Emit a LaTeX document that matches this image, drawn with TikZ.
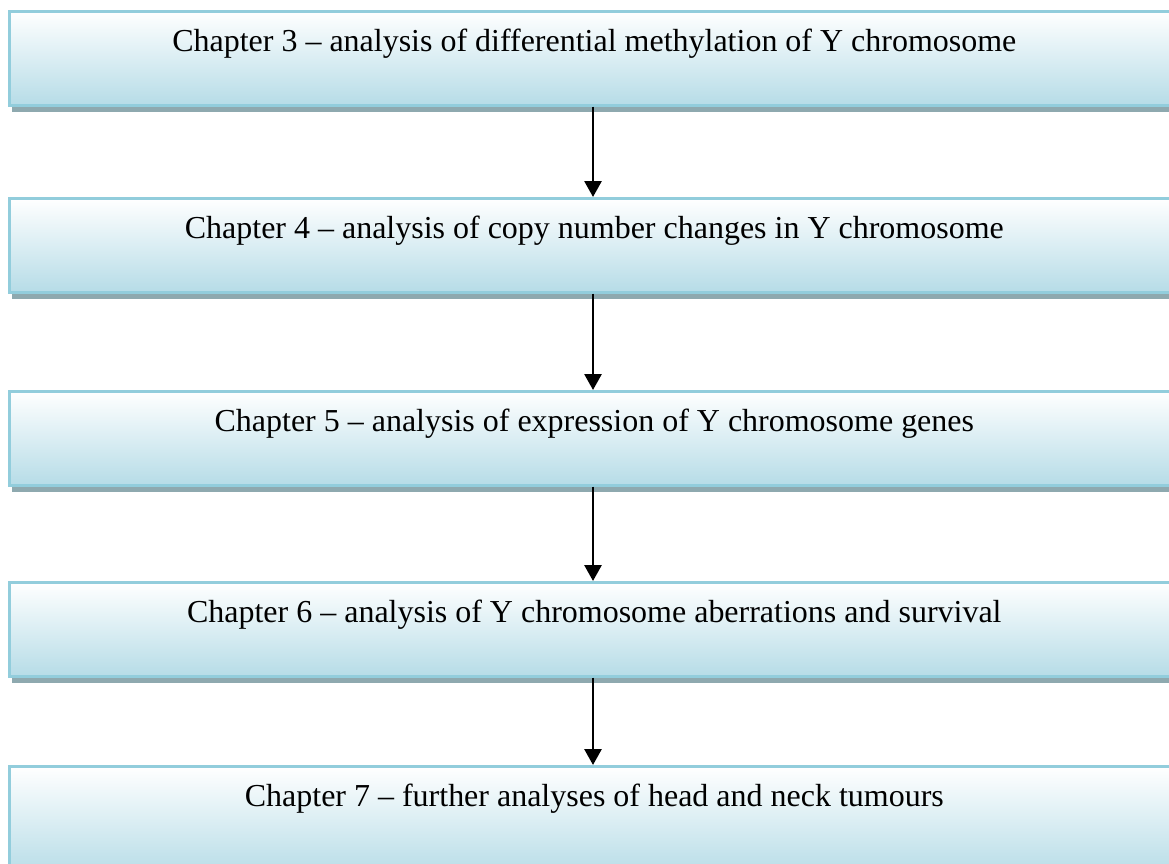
\documentclass[tikz,border=0pt]{standalone}
\usepackage{fontspec}
\setmainfont{Liberation Serif}
\usetikzlibrary{arrows.meta,shadows}
\definecolor{boxline}{HTML}{92CDDC}
\definecolor{boxbottom}{HTML}{B6DCE7}
\definecolor{boxshadow}{HTML}{8EA9AF}

\begin{document}
\begin{tikzpicture}[
  chapbox/.style={draw=boxline, line width=1.5pt, top color=white, bottom color=boxbottom,
    anchor=north west, minimum width=23.4cm, minimum height=1.88cm, inner sep=0pt,
    text height=0.6cm, text depth=0.88cm, font=\fontsize{18.2}{22}\selectfont,
    drop shadow={shadow xshift=0.06cm, shadow yshift=-0.13cm, fill=boxshadow, opacity=1}},
  flow/.style={-{Triangle[length=0.32cm,width=0.34cm]}, line width=1.6pt}
]
\path[use as bounding box] (0,0) rectangle (23.38,-17.26);
\clip (0,0) rectangle (23.38,-17.26);
% Chapter boxes
\node[chapbox] (ch3) at (0.16,-0.2) {Chapter 3 -- analysis of differential methylation of Y chromosome};
\node[chapbox] (ch4) at (0.16,-3.94) {Chapter 4 -- analysis of copy number changes in Y chromosome};
\node[chapbox] (ch5) at (0.16,-7.8) {Chapter 5 -- analysis of expression of Y chromosome genes};
\node[chapbox] (ch6) at (0.16,-11.62) {Chapter 6 -- analysis of Y chromosome aberrations and survival};
\node[chapbox, minimum height=2.2cm, text depth=1.2cm] (ch7) at (0.16,-15.3) {Chapter 7 -- further analyses of head and neck tumours};
% Arrows between chapters
\coordinate (axis) at (11.86,0);
\foreach \a/\b in {ch3/ch4,ch4/ch5,ch5/ch6,ch6/ch7}
  \draw[flow] (\a.south -| axis) -- (\b.north -| axis);
\end{tikzpicture}
\end{document}
